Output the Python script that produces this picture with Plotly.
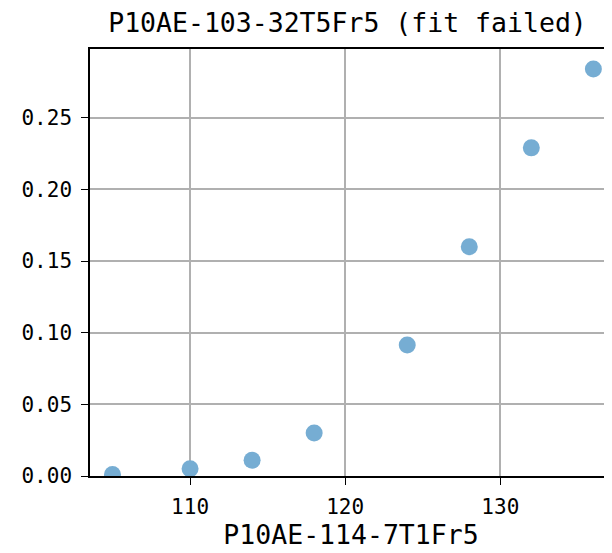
import plotly.graph_objects as go

# values
x_vals = [105, 110, 114, 118, 124, 128, 132, 136]
y_vals = [0.001, 0.005, 0.011, 0.030, 0.0915, 0.160, 0.229, 0.284]
y_ticks = [0.00, 0.05, 0.10, 0.15, 0.20, 0.25]
x_ticks = [110, 120, 130]

font_name = 'DejaVu Sans Mono'

# the page body adds 8px margin, so the figure is 8px smaller each way
W, H = 604, 545

fig = go.Figure()
fig.add_trace(go.Scatter(x=x_vals, y=y_vals, mode='markers',
                         marker=dict(size=17, color='rgb(118,173,211)'),
                         showlegend=False))

fig.update_layout(
    width=W, height=H,
    margin=dict(l=82, r=0, t=41, b=77),
    paper_bgcolor='white', plot_bgcolor='white',
    font=dict(family=font_name, color='black', size=21),
    title=dict(text='P10AE-103-32T5Fr5 (fit failed)', xref='container',
               x=339.5 / W, xanchor='center',
               y=1 - 15 / H, yanchor='middle', font=dict(size=26.5)),
    xaxis=dict(range=[103.55, 137.2], tickvals=x_ticks, ticks='outside', ticklen=7,
               tickwidth=1.3, tickcolor='black', showline=True, linecolor='black',
               linewidth=1.5, mirror=True, showgrid=True, gridcolor='#b0b0b0',
               gridwidth=1.5, zeroline=False, ticklabelstandoff=4,
               title=dict(text='P10AE-114-7T1Fr5', font=dict(size=26.5), standoff=4)),
    yaxis=dict(range=[0, 0.298], tickvals=y_ticks, tickformat='.2f',
               ticks='outside', ticklen=7, tickwidth=1.3, tickcolor='black',
               showline=True, linecolor='black', linewidth=1.5, showgrid=True,
               gridcolor='#b0b0b0', gridwidth=1.5, zeroline=False,
               ticklabelstandoff=5),
)

fig.write_html('out.html')
